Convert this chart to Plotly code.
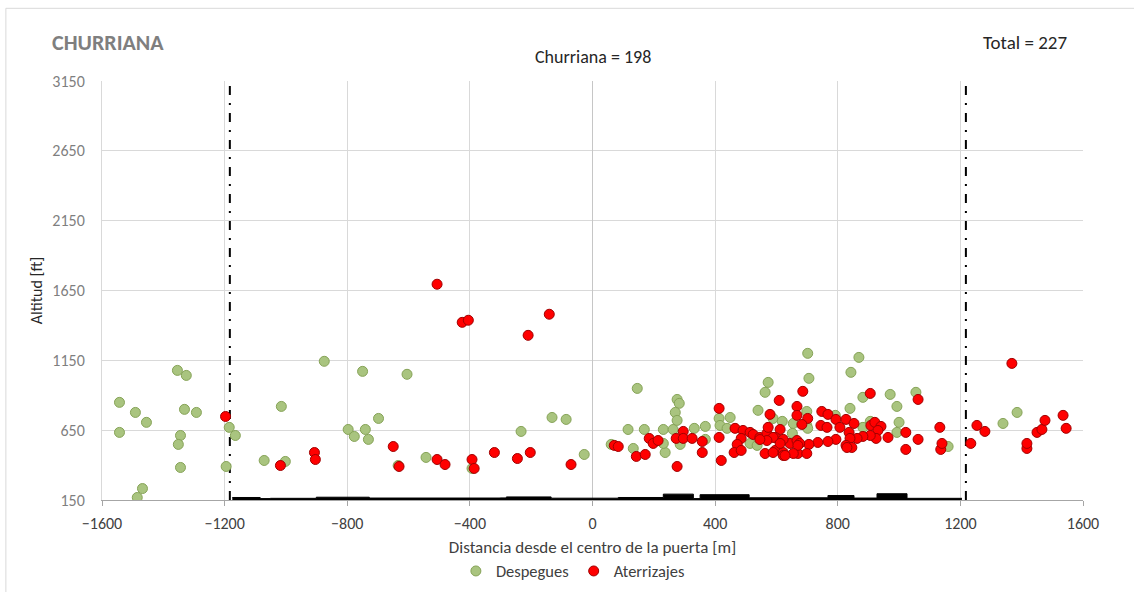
import plotly.graph_objects as go

# ---- data ----
desp_x = [-1543, -1543, -1491, -1455, -1354, -1325, -1331, -1292, -1344, -1351, -1344, -1468, -1485,
          -1185, -1165, -1195, -1071, -1002, -1015, -875, -797, -777, -741, -731, -698, -750, -634,
          -605, -543, -393, -233, -132, -86, -27, 61, 116, 146, 133, 169, 231, 237, 231, 263, 276,
          283, 270, 276, 286, 332, 368, 368, 413, 416, 449, 439, 540, 563, 573, 589, 619, 652, 655,
          514, 537, 702, 869, 843, 706, 882, 840, 971, 993, 1055, 1000, 993, 1339, 1385, 1160, 792,
          906, 699, 699, 702, 882]
desp_y = [849, 634, 777, 706, 1078, 1042, 799, 777, 612, 548, 383, 232, 168,
          670, 612, 390, 433, 426, 820, 1143, 655, 605, 655, 584, 734, 1071, 397,
          1050, 455, 376, 641, 741, 727, 476, 548, 655, 949, 519, 655, 655, 490, 555, 655, 870,
          842, 777, 720, 548, 663, 677, 584, 734, 684, 741, 663, 792, 921, 992, 734, 713, 627, 698,
          555, 541, 1200, 1171, 1064, 1021, 885, 806, 906, 820, 921, 706, 634, 698, 777, 533, 756,
          713, 784, 684, 663, 670]

ater_x = [-1197, -1018, -907, -904, -650, -631, -507, -481, -393, -386, -320, -245, -203, -70,
          -507, -425, -405, -210, -141,
          71, 84, 143, 172, 185, 198, 214, 276, 273, 296, 296, 325, 358, 358, 413, 413, 420, 465,
          491, 485, 472, 462, 485, 514, 524, 546, 569, 563, 579, 573, 609, 612, 596, 596, 622, 622,
          644, 667, 667, 667, 670, 686, 702, 748, 768, 794, 827, 853, 683, 745, 765, 807, 837, 908,
          921, 941, 931, 1133, 1254, 1280, 1022, 964, 925, 906, 882, 863, 840, 794, 768, 735, 706,
          676, 622, 589, 569, 827, 846, 830, 670, 655, 699, 628, 589, 1062, 1022, 1136, 1140, 1234,
          1417, 1417, 1450, 1466, 1476, 1535, 1545, 1368, 906, 1062, 612, 546]
ater_y = [748, 397, 490, 440, 533, 390, 440, 404, 440, 376, 490, 447, 490, 404,
          1695, 1422, 1437, 1329, 1480,
          541, 533, 462, 476, 591, 555, 576, 390, 591, 641, 591, 591, 569, 490, 806, 598, 433, 663,
          648, 591, 548, 490, 505, 634, 619, 598, 627, 483, 763, 670, 863, 655, 598, 505, 490, 469,
          555, 820, 756, 576, 483, 928, 734, 784, 763, 727, 727, 698, 691, 684, 670, 670, 634, 684,
          706, 677, 648, 670, 684, 641, 634, 598, 591, 612, 605, 591, 591, 584, 569, 562, 548,
          555, 584, 598, 576, 541, 526, 526, 541, 483, 483, 469, 490, 584, 512, 512, 555, 555,
          519, 555, 634, 655, 720, 756, 663, 1128, 913, 870, 555, 583]

terrain_x = [-1175, -1084, -1051, -901, -728, -301, -281, -135, 84, 231, 329, 351, 511, 768, 853, 928, 1026, 1205]
terrain_alt = [168, 160, 162, 170, 164, 165, 172, 163, 168, 192, 160, 188, 166, 182, 164, 195, 162, 162]

gate_limits = [-1183, 1218]
y_range = [150, 3150]
x_range = [-1600, 1600]

FONT = "Carlito, Lato, sans-serif"

fig = go.Figure()

# terrain profile
fig.add_trace(go.Scatter(x=terrain_x, y=terrain_alt, mode="lines", line=dict(color="black", width=1, shape="hv"),
                         fill="tozeroy", fillcolor="black", showlegend=False, hoverinfo="skip"))

# gate limits
for gx in gate_limits:
    fig.add_trace(go.Scatter(x=[gx, gx], y=y_range, mode="lines",
                             line=dict(color="black", width=2, dash="9px,8px,2px,8px"),
                             showlegend=False, hoverinfo="skip"))

fig.add_trace(go.Scatter(x=desp_x, y=desp_y, mode="markers", name="Despegues",
                         marker=dict(size=10, color="#A9C47F", line=dict(color="#86A357", width=1))))
fig.add_trace(go.Scatter(x=ater_x, y=ater_y, mode="markers", name="Aterrizajes",
                         marker=dict(size=10, color="#FF0000", line=dict(color="#A00000", width=1))))

fig.update_layout(
    width=1134, height=592,
    margin=dict(l=102, r=51, t=81, b=92, autoexpand=False),
    paper_bgcolor="white", plot_bgcolor="white",
    font=dict(family=FONT, size=13, color="#404040"),
    showlegend=True,
    legend=dict(orientation="h", x=0.48, xanchor="center", y=-0.17, yanchor="middle",
                font=dict(size=16.5, color="#404040"), itemwidth=30, tracegroupgap=0),
    xaxis=dict(range=x_range, tick0=-1600, dtick=400, showgrid=True, gridcolor="#D9D9D9", gridwidth=1,
               zeroline=True, zerolinecolor="#C6C6C6", zerolinewidth=1, automargin=False,
               showline=True, linecolor="#A6A6A6", linewidth=1, ticks="outside", ticklen=5,
               tickcolor="#A6A6A6", tickfont=dict(size=16, color="#404040"), ticklabelstandoff=4,
               title=dict(text="Distancia desde el centro de la puerta [m]", font=dict(size=17, color="#404040"),
                          standoff=8),
               mirror=False),
    yaxis=dict(range=y_range, tick0=150, dtick=500, showgrid=True, gridcolor="#D9D9D9", gridwidth=1,
               zeroline=False, showline=True, linecolor="#D9D9D9", linewidth=1, automargin=False,
               tickfont=dict(size=16, color="#7F7F7F"), ticks="", ticklabelstandoff=13,
               title=dict(text="Altitud [ft]", font=dict(size=16, color="#262626"), standoff=5)),
    annotations=[
        dict(text="<b>CHURRIANA</b>", xref="paper", yref="paper", x=-0.0527, y=1.0907, xanchor="left",
             yanchor="middle", showarrow=False, font=dict(size=22, color="#7F7F7F", family=FONT)),
        dict(text="Churriana = 198", xref="paper", yref="paper", x=0.5, y=1.057, xanchor="center",
             yanchor="middle", showarrow=False, font=dict(size=18, color="#262626", family=FONT)),
        dict(text="Total = 227", xref="paper", yref="paper", x=0.941, y=1.0907, xanchor="center",
             yanchor="middle", showarrow=False, font=dict(size=19, color="#262626", family=FONT)),
    ],
    shapes=[
        dict(type="line", xref="paper", yref="paper", x0=-0.098, x1=-0.098, y0=-0.3, y1=1.1735,
             line=dict(color="#D9D9D9", width=1)),
        dict(type="line", xref="paper", yref="paper", x0=-0.098, x1=1.1, y0=1.1735, y1=1.1735,
             line=dict(color="#D9D9D9", width=1)),
    ],
)

fig.write_html("out.html", config={"displayModeBar": False},
               post_script="document.body.style.margin='0';document.body.style.padding='0';")
